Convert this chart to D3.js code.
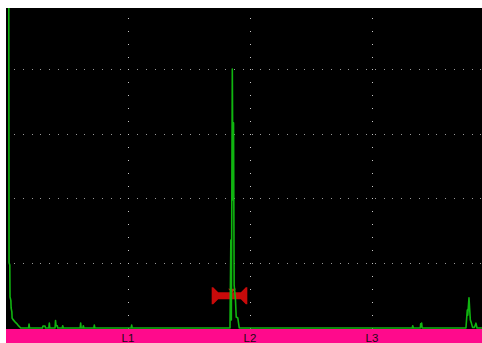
<!DOCTYPE html>
<html><head><meta charset="utf-8">
<script src="https://cdn.jsdelivr.net/npm/d3@7"></script>
<style>html,body{margin:0;padding:0;background:#fff;overflow:hidden}</style>
</head><body><svg id="c" width="482" height="343"></svg>
<script>
// Gate / distance labels and positions (distance units: 100 per division)
const gateLabels = ["L1", "L2", "L3"];
const gatePositions = [100, 200, 300];
// Amplitude grid (% full screen height)
const ampGrid = [20, 40, 60, 80];
// A-scan signal: [distance, amplitude %]
const signal = [
  [2.3, 100], [2.5, 20.2], [3.1, 19.5], [3.3, 9.6], [4.0, 8.5], [4.2, 6.2], [4.8, 5.0], [5.0, 3.1],
  [5.8, 2.6], [7.4, 1.9], [9.0, 1.3], [9.8, 0.9], [12.0, 0],
  [18.5, 0], [18.9, 1.2], [19.3, 0],
  [29.9, 0], [30.3, 0.6], [32.0, 0.6], [32.4, 0],
  [35.1, 0], [35.5, 1.5], [35.9, 0],
  [40.2, 0], [40.6, 2.3], [41.0, 0.8], [42.0, 0.7], [42.4, 0],
  [46.1, 0], [46.5, 0.7], [46.9, 0],
  [60.8, 0], [61.2, 1.5], [61.6, 0],
  [63.0, 0], [63.4, 0.7], [63.8, 0],
  [72.0, 0], [72.4, 0.9], [72.8, 0],
  [102.6, 0], [103.0, 0.9], [103.4, 0],
  [183.6, 0], [184.3, 27.3], [184.7, 2.5], [185.5, 80.3], [186.1, 39.7], [186.5, 63.6], [187.0, 13.3],
  [188.1, 8.7], [188.7, 3.4], [190.0, 3.1], [191.2, 0],
  [333.0, 0], [333.4, 0.7], [333.8, 0],
  [339.6, 0], [339.9, 1.3], [340.3, 0.5], [340.7, 1.5], [341.1, 0],
  [377.0, 0], [378.1, 5.6], [378.5, 4.0], [379.5, 9.4], [380.6, 2.5], [381.4, 1.6], [382.4, 0.2],
  [384.0, 0.2], [385.2, 1.5], [386.1, 0], [392, 0]
];
// Gate
const gateStart = 168.6, gateEnd = 197.8, gateLevel = 10, peakPos = 185.4;

const W = 482, H = 343;
const plotL = 6, plotT = 8, plotB = 329;
const svg = d3.select("#c");
const x = d3.scaleLinear().domain([0, 400]).range([6, 494]);
const y = d3.scaleLinear().domain([0, 100]).range([328, 5.5]);

svg.append("rect").attr("width", W).attr("height", H).attr("fill", "#fff");
svg.append("rect").attr("x", plotL).attr("y", plotT).attr("width", W - plotL).attr("height", plotB - plotT).attr("fill", "#000");
svg.append("rect").attr("x", plotL).attr("y", plotB).attr("width", W - plotL).attr("height", H - plotB).attr("fill", "#ff0a8c");

svg.append("defs").append("clipPath").attr("id", "pc")
  .append("rect").attr("x", plotL).attr("y", plotT).attr("width", W - plotL).attr("height", plotB - plotT);

const g = svg.append("g").attr("clip-path", "url(#pc)");

// horizontal dotted grid
ampGrid.forEach(a => {
  const yy = Math.floor(y(a));
  g.selectAll(null).data(d3.range(14, W, 8.8)).enter().append("rect")
    .attr("x", d => Math.round(d)).attr("y", yy).attr("width", 1).attr("height", 1).attr("fill", "#9a9a9a");
});
// vertical dotted grid
gatePositions.forEach(p => {
  const xx = Math.floor(x(p));
  g.selectAll(null).data(d3.range(0, 101, 4)).enter().append("rect")
    .attr("x", xx).attr("y", d => Math.floor(y(d))).attr("width", 1).attr("height", 1).attr("fill", "#c8c8c8");
});

// gate
const gl = x(gateStart), gr = x(gateEnd), gy = y(gateLevel);
const gp = `M${gl},${gy-8.5} L${gl+1.5},${gy-8.5} L${gl+6.5},${gy-3.5} L${gr-6.5},${gy-3.5} L${gr-1.5},${gy-8.5} L${gr},${gy-8.5}
 L${gr},${gy+8.5} L${gr-1.5},${gy+8.5} L${gr-6.5},${gy+3.5} L${gl+6.5},${gy+3.5} L${gl+1.5},${gy+8.5} L${gl},${gy+8.5} Z`;
g.append("path").attr("d", gp).attr("fill", "#c80a0a");
const px = x(peakPos);
g.append("path").attr("d", `M${px-4},${gy-7} L${px+4},${gy-7} L${px},${gy-3} Z`).attr("fill", "#e01010");

// signal
const line = d3.line().x(d => x(d[0])).y(d => y(d[1]));
g.append("path").datum(signal).attr("d", line).attr("fill", "none")
  .attr("stroke", "#10b410").attr("stroke-width", 1.6).attr("stroke-linejoin", "round");

// labels
svg.selectAll(null).data(gateLabels).enter().append("text")
  .attr("x", (d, i) => x(gatePositions[i])).attr("y", 341.5)
  .attr("text-anchor", "middle").attr("font-family", "Liberation Sans, Arial, sans-serif")
  .attr("font-size", 11.5).attr("fill", "#1a0a14").text(d => d);
</script></body></html>
